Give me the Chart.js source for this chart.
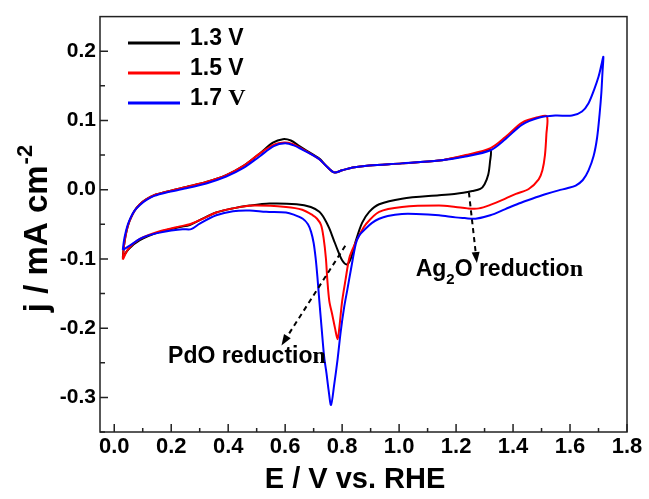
<!DOCTYPE html>
<html>
<head>
<meta charset="utf-8">
<script src="https://cdn.jsdelivr.net/npm/chart.js@4.4.1/dist/chart.umd.min.js"></script>
<style>
  html, body { margin: 0; padding: 0; background: #fff; }
  canvas { display: block; }
</style>
</head>
<body>
<canvas id="cv" width="649" height="499"></canvas>
<script>
// CV loops, [E (V vs RHE), j (mA cm-2)], anodic sweep first then the return sweep
const loop13 = [
  [0.030,-0.098],[0.034,-0.082],[0.040,-0.066],[0.048,-0.052],[0.058,-0.041],[0.072,-0.030],
  [0.090,-0.021],[0.112,-0.014],[0.140,-0.008],[0.183,-0.003],[0.253,0.004],[0.323,0.011],
  [0.393,0.021],[0.452,0.034],[0.510,0.052],[0.557,0.068],[0.592,0.073],[0.620,0.071],
  [0.650,0.063],[0.697,0.051],[0.720,0.045],[0.745,0.034],[0.772,0.025],[0.800,0.028],
  [0.837,0.032],[0.895,0.035],[1.010,0.038],[1.140,0.042],[1.233,0.049],[1.290,0.054],
  [1.321,0.058],
  [1.319,0.040],[1.313,0.022],[1.300,0.008],[1.285,0.001],[1.257,-0.002],[1.200,-0.006],
  [1.140,-0.008],[1.010,-0.013],[0.930,-0.021],[0.895,-0.032],[0.870,-0.048],[0.848,-0.074],
  [0.830,-0.100],[0.816,-0.108],[0.800,-0.102],[0.785,-0.088],[0.770,-0.072],[0.755,-0.056],
  [0.738,-0.042],[0.720,-0.032],[0.690,-0.025],[0.640,-0.021],[0.545,-0.020],[0.475,-0.023],
  [0.417,-0.027],[0.358,-0.033],[0.300,-0.044],[0.265,-0.051],[0.230,-0.054],[0.160,-0.061],
  [0.090,-0.073],[0.050,-0.086],[0.030,-0.098]
];
const loop15 = [
  [0.030,-0.101],[0.034,-0.082],[0.040,-0.066],[0.048,-0.052],[0.058,-0.041],[0.072,-0.030],
  [0.090,-0.021],[0.112,-0.014],[0.140,-0.008],[0.183,-0.003],[0.253,0.004],[0.323,0.011],
  [0.393,0.021],[0.452,0.034],[0.510,0.052],[0.560,0.065],[0.597,0.068],[0.625,0.066],
  [0.655,0.060],[0.697,0.050],[0.720,0.044],[0.745,0.034],[0.772,0.025],[0.800,0.028],
  [0.837,0.032],[0.895,0.035],[1.010,0.038],[1.140,0.042],[1.233,0.050],[1.321,0.060],
  [1.373,0.076],[1.432,0.097],[1.490,0.105],[1.519,0.106],
  [1.517,0.080],[1.512,0.050],[1.503,0.028],[1.490,0.015],[1.455,0.001],[1.410,-0.006],
  [1.373,-0.013],[1.320,-0.022],[1.280,-0.027],[1.240,-0.027],[1.198,-0.025],[1.140,-0.023],
  [1.010,-0.025],[0.930,-0.032],[0.883,-0.050],[0.860,-0.066],[0.840,-0.083],[0.825,-0.099],
  [0.812,-0.130],[0.800,-0.161],[0.790,-0.200],[0.784,-0.216],[0.775,-0.200],[0.765,-0.180],
  [0.755,-0.161],[0.748,-0.130],[0.743,-0.099],[0.735,-0.070],[0.726,-0.051],[0.712,-0.042],
  [0.697,-0.037],[0.660,-0.029],[0.603,-0.025],[0.487,-0.023],[0.417,-0.027],[0.358,-0.033],
  [0.300,-0.044],[0.265,-0.050],[0.230,-0.053],[0.160,-0.060],[0.090,-0.071],[0.050,-0.085],
  [0.030,-0.101]
];
const loop17 = [
  [0.030,-0.087],[0.034,-0.074],[0.040,-0.062],[0.048,-0.050],[0.058,-0.040],[0.072,-0.030],
  [0.090,-0.022],[0.112,-0.015],[0.140,-0.009],[0.183,-0.004],[0.253,0.002],[0.323,0.009],
  [0.393,0.019],[0.452,0.031],[0.510,0.048],[0.560,0.063],[0.600,0.067],[0.630,0.064],
  [0.660,0.058],[0.697,0.050],[0.720,0.044],[0.745,0.034],[0.772,0.025],[0.800,0.028],
  [0.837,0.032],[0.895,0.035],[1.010,0.038],[1.140,0.042],[1.233,0.048],[1.321,0.057],
  [1.373,0.073],[1.432,0.094],[1.490,0.104],[1.548,0.107],[1.607,0.107],[1.642,0.113],
  [1.665,0.125],[1.685,0.145],[1.700,0.163],[1.710,0.180],[1.717,0.192],
  [1.714,0.170],[1.710,0.140],[1.704,0.110],[1.695,0.075],[1.683,0.049],[1.665,0.028],
  [1.645,0.014],[1.620,0.006],[1.590,0.002],[1.560,-0.001],[1.510,-0.007],[1.467,-0.013],
  [1.420,-0.020],[1.373,-0.028],[1.320,-0.037],[1.268,-0.042],[1.230,-0.041],[1.198,-0.040],
  [1.140,-0.037],[1.060,-0.035],[1.010,-0.035],[0.960,-0.038],[0.930,-0.042],[0.905,-0.048],
  [0.883,-0.056],[0.860,-0.066],[0.848,-0.078],[0.831,-0.115],[0.818,-0.145],[0.807,-0.170],
  [0.795,-0.205],[0.784,-0.245],[0.772,-0.282],[0.761,-0.311],[0.752,-0.288],[0.745,-0.265],
  [0.737,-0.242],[0.728,-0.200],[0.720,-0.161],[0.713,-0.125],[0.707,-0.099],[0.700,-0.077],
  [0.691,-0.061],[0.680,-0.050],[0.662,-0.042],[0.630,-0.036],[0.603,-0.033],[0.533,-0.032],
  [0.475,-0.030],[0.417,-0.031],[0.358,-0.037],[0.300,-0.049],[0.270,-0.057],[0.240,-0.057],
  [0.200,-0.059],[0.160,-0.062],[0.120,-0.066],[0.090,-0.071],[0.050,-0.082],[0.030,-0.087]
];

const seriesLabels = ['1.3 V', '1.5 V', '1.7 V'];
const seriesColors = ['#000000', '#ff0000', '#0000ff'];
const xTicks = [0, 0.2, 0.4, 0.6, 0.8, 1.0, 1.2, 1.4, 1.6, 1.8];
const yTicks = [-0.3, -0.2, -0.1, 0.0, 0.1, 0.2];

const SANS = '"Liberation Sans", Arial, sans-serif';
const SERIF = '"Liberation Serif", "Times New Roman", serif';

function toPoints(loop) {
  return loop.map(p => ({ x: p[0], y: p[1] }));
}

// frame, inward ticks, legend, axis titles and the two annotations
const decorations = {
  id: 'decorations',
  afterDraw(chart) {
    const ctx = chart.ctx;
    const a = chart.chartArea;
    const xs = chart.scales.x, ys = chart.scales.y;
    ctx.save();

    ctx.strokeStyle = '#222';
    ctx.lineWidth = 1.5;
    ctx.strokeRect(a.left, a.top, a.right - a.left, a.bottom - a.top);

    ctx.beginPath();
    xTicks.forEach((v, i) => {
      const px = xs.getPixelForValue(v);
      ctx.moveTo(px, a.bottom); ctx.lineTo(px, a.bottom - 8);
      if (i < xTicks.length - 1) {
        const mx = xs.getPixelForValue((v + xTicks[i + 1]) / 2);
        ctx.moveTo(mx, a.bottom); ctx.lineTo(mx, a.bottom - 4);
      }
    });
    yTicks.forEach((v, i) => {
      const py = ys.getPixelForValue(v);
      ctx.moveTo(a.left, py); ctx.lineTo(a.left + 8, py);
      const my = ys.getPixelForValue(v - 0.05);
      ctx.moveTo(a.left, my); ctx.lineTo(a.left + 5, my);
      if (i === yTicks.length - 1) {
        const ty = ys.getPixelForValue(v + 0.05);
        if (ty > a.top + 2) { ctx.moveTo(a.left, ty); ctx.lineTo(a.left + 5, ty); }
      }
    });
    ctx.stroke();

    // legend
    ctx.textBaseline = 'middle';
    ctx.fillStyle = '#000';
    seriesLabels.forEach((lab, i) => {
      const y = 43 + i * 30;
      ctx.strokeStyle = seriesColors[i];
      ctx.lineWidth = 3;
      ctx.beginPath(); ctx.moveTo(128, y); ctx.lineTo(180, y); ctx.stroke();
      const num = lab.split(' ')[0] + ' ';
      ctx.font = 'bold 23px ' + SANS;
      ctx.fillText(num, 190, y - 4);
      const w = ctx.measureText(num).width;
      ctx.font = (i === 2 ? 'bold 24px ' + SERIF : 'bold 23px ' + SANS);
      ctx.fillText('V', 190 + w, y - 4);
    });

    // x title
    ctx.textBaseline = 'alphabetic';
    ctx.textAlign = 'center';
    ctx.font = 'bold 29px ' + SANS;
    ctx.fillText('E / V vs. RHE', 355, 488);

    // y title with superscript
    ctx.save();
    ctx.translate(47, 229);
    ctx.rotate(-Math.PI / 2);
    ctx.textAlign = 'left';
    ctx.font = 'bold 33px ' + SANS;
    const main = 'j / mA cm';
    const wMain = ctx.measureText(main).width;
    ctx.font = 'bold 22px ' + SANS;
    const wSup = ctx.measureText('-2').width;
    const x0 = -(wMain + wSup) / 2;
    ctx.font = 'bold 33px ' + SANS;
    ctx.fillText(main, x0, 0);
    ctx.font = 'bold 22px ' + SANS;
    ctx.fillText('-2', x0 + wMain + 1, -15);
    ctx.restore();

    // annotation arrows
    function arrow(x1, y1, x2, y2) {
      const p1 = [xs.getPixelForValue(x1), ys.getPixelForValue(y1)];
      const p2 = [xs.getPixelForValue(x2), ys.getPixelForValue(y2)];
      const ang = Math.atan2(p2[1] - p1[1], p2[0] - p1[0]);
      const hl = 11, hw = 4;
      const bx = p2[0] - hl * Math.cos(ang), by = p2[1] - hl * Math.sin(ang);
      ctx.strokeStyle = '#000';
      ctx.lineWidth = 2;
      ctx.setLineDash([5, 4]);
      ctx.beginPath(); ctx.moveTo(p1[0], p1[1]); ctx.lineTo(bx, by); ctx.stroke();
      ctx.setLineDash([]);
      ctx.beginPath();
      ctx.moveTo(p2[0], p2[1]);
      ctx.lineTo(bx + hw * Math.sin(ang), by - hw * Math.cos(ang));
      ctx.lineTo(bx - hw * Math.sin(ang), by + hw * Math.cos(ang));
      ctx.closePath();
      ctx.fill();
    }
    arrow(0.811, -0.081, 0.587, -0.225);
    arrow(1.245, -0.004, 1.273, -0.106);

    // annotation texts (last "n" is set in a serif face)
    function label(parts, x, y) {
      let px = xs.getPixelForValue(x);
      const py = ys.getPixelForValue(y);
      ctx.textAlign = 'left';
      parts.forEach(p => {
        ctx.font = p.font;
        ctx.fillText(p.t, px, py + (p.dy || 0));
        px += ctx.measureText(p.t).width;
      });
    }
    label([
      { t: 'PdO reductio', font: 'bold 23px ' + SANS },
      { t: 'n', font: 'bold 24px ' + SERIF }
    ], 0.189, -0.251);
    label([
      { t: 'Ag', font: 'bold 23px ' + SANS },
      { t: '2', font: 'bold 15px ' + SANS, dy: 8 },
      { t: 'O ', font: 'bold 23px ' + SANS },
      { t: 'reductio', font: 'bold 23px ' + SANS },
      { t: 'n', font: 'bold 24px ' + SERIF }
    ], 1.058, -0.125);

    ctx.restore();
  }
};

const loops = [loop13, loop15, loop17];

new Chart(document.getElementById('cv').getContext('2d'), {
  type: 'scatter',
  data: {
    datasets: loops.map((loop, i) => ({
      label: seriesLabels[i],
      data: toPoints(loop),
      showLine: true,
      borderColor: seriesColors[i],
      backgroundColor: seriesColors[i],
      borderWidth: 2,
      pointRadius: 0,
      tension: 0.3,
      fill: false,
      order: 3 - i
    }))
  },
  options: {
    responsive: false,
    animation: false,
    devicePixelRatio: 1,
    layout: { padding: { top: 12, right: 22, left: 0, bottom: 0 } },
    plugins: {
      legend: { display: false },
      tooltip: { enabled: false }
    },
    scales: {
      x: {
        type: 'linear',
        min: -0.05,
        max: 1.8,
        afterFit(s) { s.height = 67; },
        afterBuildTicks(s) { s.ticks = xTicks.map(v => ({ value: v })); },
        grid: { display: false, drawTicks: false },
        border: { display: false },
        ticks: {
          color: '#000',
          padding: 2,
          maxRotation: 0,
          autoSkip: false,
          font: { family: SANS, size: 22, weight: 'bold' },
          callback: v => v.toFixed(1)
        }
      },
      y: {
        type: 'linear',
        min: -0.35,
        max: 0.25,
        afterFit(s) { s.width = 100; },
        afterBuildTicks(s) { s.ticks = yTicks.map(v => ({ value: v })); },
        grid: { display: false, drawTicks: false },
        border: { display: false },
        ticks: {
          color: '#000',
          padding: 4,
          autoSkip: false,
          font: { family: SANS, size: 21, weight: 'bold' },
          callback: v => v.toFixed(1)
        }
      }
    }
  },
  plugins: [decorations]
});
</script>
</body>
</html>
